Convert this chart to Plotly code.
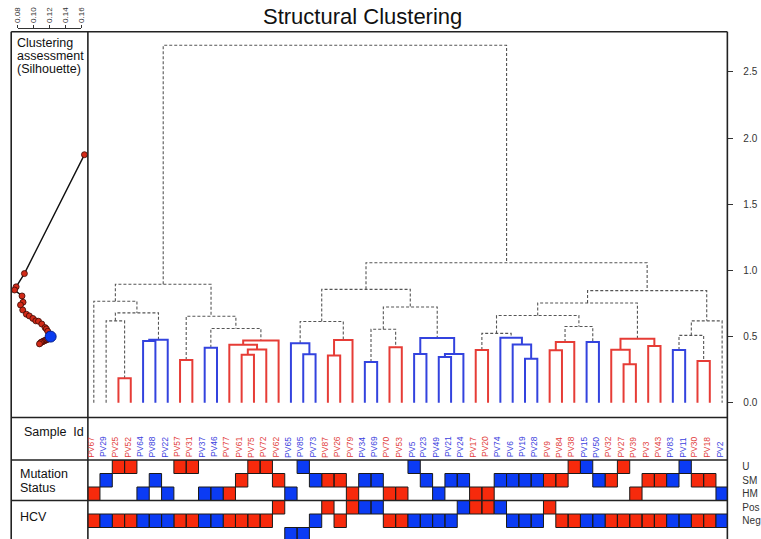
import plotly.graph_objects as go

W, H = 761, 539
FONT = "Liberation Sans, Arial, sans-serif"

# ---------------- data ----------------
sample_ids = ["PV67", "PV29", "PV25", "PV52", "PV64", "PV88", "PV22", "PV57", "PV31", "PV37",
              "PV46", "PV77", "PV61", "PV75", "PV72", "PV62", "PV65", "PV85", "PV73", "PV87",
              "PV26", "PV79", "PV34", "PV69", "PV70", "PV53", "PV5", "PV23", "PV49", "PV21",
              "PV24", "PV17", "PV20", "PV74", "PV6", "PV19", "PV28", "PV9", "PV84", "PV38",
              "PV15", "PV50", "PV32", "PV27", "PV39", "PV3", "PV43", "PV83", "PV11", "PV30",
              "PV18", "PV2"]
sample_group = ["R", "B", "R", "R", "B", "B", "B", "R", "R", "B",
                "B", "R", "R", "R", "R", "R", "B", "B", "B", "R",
                "R", "R", "B", "B", "R", "R", "B", "B", "B", "B",
                "B", "R", "R", "B", "B", "B", "B", "R", "R", "R",
                "B", "B", "R", "R", "R", "R", "R", "B", "B", "R",
                "R", "B"]
mutation_status = ["HM", "SM", "U", "U", "HM", "SM", "HM", "U", "U", "HM",
                   "HM", "HM", "SM", "U", "U", "SM", "HM", "U", "SM", "SM",
                   "SM", "HM", "SM", "SM", "HM", "HM", "U", "SM", "HM", "SM",
                   "SM", "HM", "HM", "SM", "SM", "SM", "SM", "SM", "SM", "U",
                   "U", "SM", "SM", "U", "HM", "SM", "SM", "SM", "U", "SM",
                   "SM", "HM"]
hcv_status = ["Neg", "Neg", "Neg", "Neg", "Neg", "Neg", "Neg", "Neg", "Neg", "Neg",
              "Neg", "Neg", "Neg", "Neg", "Neg", "Pos", "NA", "NA", "Neg", "Pos",
              "Neg", "Pos", "Pos", "Pos", "Neg", "Neg", "Neg", "Neg", "Neg", "Neg",
              "Pos", "Pos", "Pos", "Pos", "Neg", "Neg", "Neg", "Pos", "Neg", "Neg",
              "Neg", "Neg", "Neg", "Neg", "Neg", "Neg", "Neg", "Neg", "Neg", "Neg",
              "Neg", "Neg"]
track_rows = ["U", "SM", "HM", "Pos", "Neg", "NA"]
track_labels = ["U", "SM", "HM", "Pos", "Neg"]

# hierarchical merges: (left, right, height); str = leaf, int = earlier merge
merges = [
    ("PV25", "PV52", 0.185),  # 0
    ("PV29", 0, 0.619),       # 1
    ("PV64", "PV88", 0.466),  # 2
    (2, "PV22", 0.476),       # 3
    (1, 3, 0.679),            # 4
    ("PV67", 4, 0.767),       # 5
    ("PV57", "PV31", 0.323),  # 6
    ("PV37", "PV46", 0.416),  # 7
    ("PV61", "PV75", 0.363),  # 8
    (8, "PV72", 0.403),       # 9
    ("PV77", 9, 0.439),       # 10
    (10, "PV62", 0.471),      # 11
    (7, 11, 0.561),           # 12
    (6, 12, 0.654),           # 13
    (5, 13, 0.895),           # 14
    ("PV85", "PV73", 0.366),  # 15
    ("PV65", 15, 0.449),      # 16
    ("PV87", "PV26", 0.358),  # 17
    (17, "PV79", 0.474),      # 18
    (16, 18, 0.614),          # 19
    ("PV34", "PV69", 0.308),  # 20
    ("PV70", "PV53", 0.419),  # 21
    (20, 21, 0.556),          # 22
    ("PV5", "PV23", 0.368),   # 23
    ("PV49", "PV21", 0.346),  # 24
    (24, "PV24", 0.368),      # 25
    (23, 25, 0.489),          # 26
    (22, 26, 0.724),          # 27
    (19, 27, 0.857),          # 28
    ("PV17", "PV20", 0.398),  # 29
    ("PV19", "PV28", 0.333),  # 30
    ("PV6", 30, 0.441),       # 31
    ("PV74", 31, 0.491),      # 32
    (29, 32, 0.524),          # 33
    ("PV9", "PV84", 0.396),   # 34
    (34, "PV38", 0.459),      # 35
    ("PV15", "PV50", 0.459),  # 36
    (35, 36, 0.576),          # 37
    (33, 37, 0.659),          # 38
    ("PV27", "PV39", 0.291),  # 39
    ("PV32", 39, 0.401),      # 40
    ("PV3", "PV43", 0.429),   # 41
    (40, 41, 0.484),          # 42
    (38, 42, 0.754),          # 43
    ("PV83", "PV11", 0.398),  # 44
    ("PV30", "PV18", 0.316),  # 45
    (44, 45, 0.509),          # 46
    (46, "PV2", 0.619),       # 47
    (43, 47, 0.847),          # 48
    (28, 48, 1.058),          # 49
    (14, 49, 2.700),          # 50
]

height_ticks = [0.0, 0.5, 1.0, 1.5, 2.0, 2.5]
sil_ticks = [0.08, 0.10, 0.12, 0.14, 0.16]

# silhouette assessment for k = 2..30 clusters (value, cut height)
sil_k = list(range(2, 31))
sil_value = [0.164, 0.0883, 0.0779, 0.0759, 0.0853, 0.0866, 0.0834, 0.0862, 0.0908, 0.0945,
             0.0990, 0.1027, 0.1061, 0.1102, 0.1144, 0.1160, 0.1177, 0.1198, 0.1214, 0.1200,
             0.1188, 0.1175, 0.1160, 0.1148, 0.1130, 0.1115, 0.1100, 0.1088, 0.1073]
sil_height = [1.874, 0.976, 0.876, 0.852, 0.807, 0.760, 0.739, 0.701, 0.669, 0.656,
              0.637, 0.619, 0.616, 0.595, 0.568, 0.558, 0.540, 0.516, 0.500, 0.490,
              0.486, 0.480, 0.475, 0.472, 0.468, 0.462, 0.459, 0.454, 0.445]
sil_selected_k = 20

# ---------------- styles ----------------
LINE_COL = {"R": "#E63C36", "B": "#3343DE"}
CELL_COL = {"R": "#F72A0C", "B": "#0B3BF4"}
LABEL_COL = {"R": "#E2403C", "B": "#3C42DE"}
DASH_COL = "#555555"


def px_x(p):
    return p / W


def px_y(p):
    return 1 - p / H


# ---------------- dendrogram geometry ----------------
seg = {"dash": ([], []), "R": ([], []), "B": ([], [])}
node_x, node_h, node_members = {}, {}, {}


def node(c):
    if isinstance(c, str):
        return float(sample_ids.index(c)), 0.0, {c}
    return node_x[c], node_h[c], node_members[c]


for idx, (a, b, h) in enumerate(merges):
    xa, ha, ma = node(a)
    xb, hb, mb = node(b)
    node_x[idx] = (xa + xb) / 2
    node_h[idx] = h
    mem = ma | mb
    node_members[idx] = mem
    groups = {sample_group[sample_ids.index(s)] for s in mem}
    key = groups.pop() if len(groups) == 1 else "dash"
    xs, ys = seg[key]
    xs += [xa, xa, xb, xb, None]
    ys += [ha, h, h, hb, None]

fig = go.Figure()

fig.add_trace(go.Scatter(x=seg["dash"][0], y=seg["dash"][1], mode="lines",
                         line=dict(color=DASH_COL, width=1.1, dash="3px,2px"),
                         xaxis="x", yaxis="y", hoverinfo="skip"))
for g in ("R", "B"):
    fig.add_trace(go.Scatter(x=seg[g][0], y=seg[g][1], mode="lines",
                             line=dict(color=LINE_COL[g], width=2),
                             xaxis="x", yaxis="y", hoverinfo="skip"))

# ---------------- annotation tracks (cells) ----------------
cells = {"R": ([], []), "B": ([], [])}
for i, sid in enumerate(sample_ids):
    g = sample_group[i]
    for status in (mutation_status[i], hcv_status[i]):
        r = track_rows.index(status)
        xs, ys = cells[g]
        xs += [i - 0.5, i + 0.5, i + 0.5, i - 0.5, i - 0.5, None]
        ys += [r - 0.5, r - 0.5, r + 0.5, r + 0.5, r - 0.5, None]
for g in ("R", "B"):
    fig.add_trace(go.Scatter(x=cells[g][0], y=cells[g][1], mode="lines", fill="toself",
                             fillcolor=CELL_COL[g], line=dict(color="#1a1a1a", width=1),
                             xaxis="x", yaxis="y2", hoverinfo="skip"))

# ---------------- silhouette panel ----------------
fig.add_trace(go.Scatter(x=sil_value, y=sil_height, mode="lines+markers",
                         line=dict(color="#111111", width=1.4),
                         marker=dict(size=6, color="#D22A18", line=dict(color="#3a0a05", width=0.8)),
                         xaxis="x2", yaxis="y", cliponaxis=False, hoverinfo="skip"))
si = sil_k.index(sil_selected_k)
fig.add_trace(go.Scatter(x=[sil_value[si]], y=[sil_height[si]], mode="markers",
                         marker=dict(size=11, color="#0A3CF0", line=dict(color="#06208a", width=1)),
                         xaxis="x2", yaxis="y", cliponaxis=False, hoverinfo="skip"))
# carrier trace so the silhouette tick axis is rendered
fig.add_trace(go.Scatter(x=[sil_ticks[0]], y=[0], mode="markers", marker=dict(opacity=0),
                         xaxis="x3", yaxis="y", hoverinfo="skip"))

# ---------------- layout ----------------
x_lo = (85 - 91.0) / 12.484
x_hi = (733 - 91.0) / 12.484
y0_px, y_scale = 402.8, 132.4
sil_scale = 0.02 / 16.075

fig.update_layout(
    width=W, height=H, margin=dict(l=0, r=0, t=0, b=0),
    paper_bgcolor="white", plot_bgcolor="rgba(0,0,0,0)", showlegend=False,
    font=dict(family=FONT, color="#111111"),
    xaxis=dict(domain=[px_x(85), px_x(733)], range=[x_lo, x_hi], visible=False,
               anchor="y", fixedrange=True),
    yaxis=dict(domain=[px_y(417.5), px_y(31.7)],
               range=[(y0_px - 417.5) / y_scale, (y0_px - 31.7) / y_scale],
               side="right", anchor="x", showgrid=False, zeroline=False, showline=False,
               tickvals=height_ticks, ticktext=[f"{v:.1f}" for v in height_ticks],
               ticks="outside", ticklen=5, tickwidth=1, tickcolor="#333333",
               tickfont=dict(size=10, color="#333333", family=FONT), ticklabelstandoff=8),
    xaxis2=dict(domain=[px_x(7.3), px_x(85)],
                range=[0.08 - (14 - 7.3) * sil_scale, 0.08 + (85 - 14) * sil_scale],
                anchor="y", visible=False),
    xaxis3=dict(domain=[px_x(14), px_x(78.3)], range=[0.08, 0.16], anchor="free",
                position=px_y(27.5), side="top", showline=True, linecolor="#333333",
                linewidth=1, showgrid=False, zeroline=False, tickvals=sil_ticks,
                ticktext=[f"{v:.2f}" for v in sil_ticks], ticks="outside", ticklen=3,
                tickcolor="#333333", tickangle=-90,
                tickfont=dict(size=8, color="#333333", family=FONT)),
    yaxis2=dict(domain=[0, px_y(460)], range=[(539 - 460) / 13.5 - 0.5, -0.5],
                anchor="x", side="right", showgrid=False, zeroline=False, showline=False,
                tickvals=list(range(len(track_labels))), ticktext=track_labels, ticks="",
                tickfont=dict(size=10, color="#333333", family=FONT), ticklabelstandoff=14),
)

# frame lines
frame = [
    (7.3, 31.7, 7.3, 539), (85, 31.7, 85, 539), (733, 31.7, 733, 539),
    (7.3, 31.7, 733, 31.7), (7.3, 417.5, 733, 417.5), (7.3, 460, 733, 460),
    (7.3, 500.5, 733, 500.5),
]
for x0, y0, x1, y1 in frame:
    fig.add_shape(type="line", xref="paper", yref="paper", x0=px_x(x0), y0=px_y(y0),
                  x1=px_x(x1), y1=px_y(y1), line=dict(color="#222222", width=1.6))

annotations = []
# title
annotations.append(dict(text="Structural Clustering", x=px_x(363.5), y=px_y(17), xref="paper",
                        yref="paper", xanchor="center", yanchor="middle", showarrow=False,
                        borderpad=0, borderwidth=0,
                        font=dict(size=22, color="#111111", family=FONT)))
# panel labels
panel_text = [("Clustering", 42.7), ("assessment", 56.0), ("(Silhouette)", 69.5),
              ("Sample\u00a0 Id", 432.3), ("Mutation", 474.0), ("Status", 488.0),
              ("HCV", 516.5)]
for t, yy in panel_text:
    xx = 13.5 if yy < 100 else (20.5 if yy < 450 else 16)
    annotations.append(dict(text=t, x=px_x(xx), y=px_y(yy), xref="paper", yref="paper",
                            xanchor="left", yanchor="middle", showarrow=False,
                            borderpad=0, borderwidth=0,
                            font=dict(size=12.5, color="#111111", family=FONT)))
# sample ids
for i, sid in enumerate(sample_ids):
    annotations.append(dict(text=sid, x=i, xref="x", y=px_y(457.5), yref="paper",
                            textangle=-90, xanchor="center", yanchor="bottom", xshift=-3,
                            showarrow=False, borderpad=0, borderwidth=0,
                            font=dict(size=8.5, color=LABEL_COL[sample_group[i]], family=FONT)))
fig.update_layout(annotations=annotations)

# the page body has a default 8px margin; remove it so the figure sits at the window origin
fig.write_html("out.html", config={"displayModeBar": False},
               post_script="document.body.style.margin='0px';document.body.style.overflow='hidden';")
